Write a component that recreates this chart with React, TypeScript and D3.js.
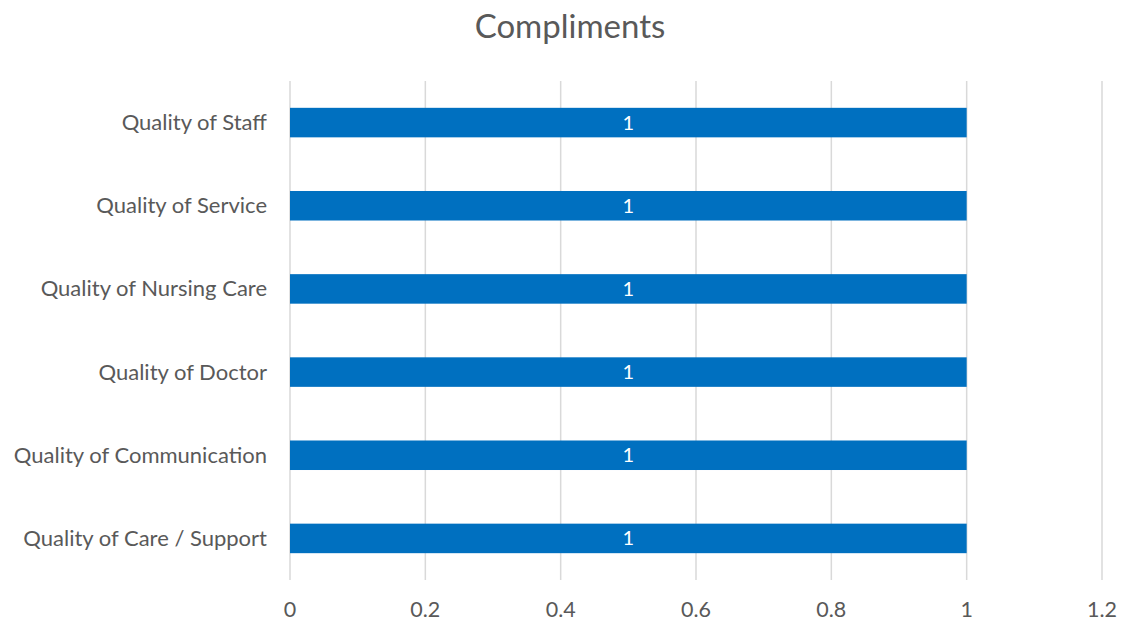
import * as d3 from 'd3';

const categories = [
  'Quality of Staff',
  'Quality of Service',
  'Quality of Nursing Care',
  'Quality of Doctor',
  'Quality of Communication',
  'Quality of Care / Support',
];
const values = [1, 1, 1, 1, 1, 1];
const xTicks = [0, 0.2, 0.4, 0.6, 0.8, 1, 1.2];

const W = 1123;
const H = 622;
const FONT = 'Lato, "Open Sans", sans-serif';

export default function App() {
  const left = 290;
  const right = 1102;
  const top = 81;
  const bottom = 580;

  const x = d3.scaleLinear().domain([0, 1.2]).range([left, right]);
  const y = d3
    .scaleBand<string>()
    .domain(categories)
    .range([top, bottom])
    .paddingInner(0.645)
    .paddingOuter(0.3225);

  return (
    <svg width={W} height={H} style={{ position: 'absolute', left: 0, top: 0 }} fontFamily={FONT}>
      <rect width={W} height={H} fill="#fff" />
      <text x={570} y={38} textAnchor="middle" fontSize={33} fill="#595959">
        Compliments
      </text>
      {xTicks.map((t) => (
        <g key={t}>
          <line x1={x(t)} x2={x(t)} y1={top} y2={bottom} stroke="#d9d9d9" strokeWidth={1.5} />
          <text x={x(t)} y={617} textAnchor="middle" fontSize={21.5} fill="#595959">
            {t}
          </text>
        </g>
      ))}
      {categories.map((c, i) => {
        const y0 = y(c)!;
        const bw = y.bandwidth();
        return (
          <g key={c}>
            <rect x={x(0)} y={y0} width={x(values[i]) - x(0)} height={bw} fill="#0070c0" />
            <text
              x={(x(0) + x(values[i])) / 2}
              y={y0 + bw / 2 + 7}
              textAnchor="middle"
              fontSize={20}
              fill="#fff"
            >
              {values[i]}
            </text>
            <text x={267} y={y0 + bw / 2 + 7.5} textAnchor="end" fontSize={22} fill="#595959">
              {c}
            </text>
          </g>
        );
      })}
    </svg>
  );
}
